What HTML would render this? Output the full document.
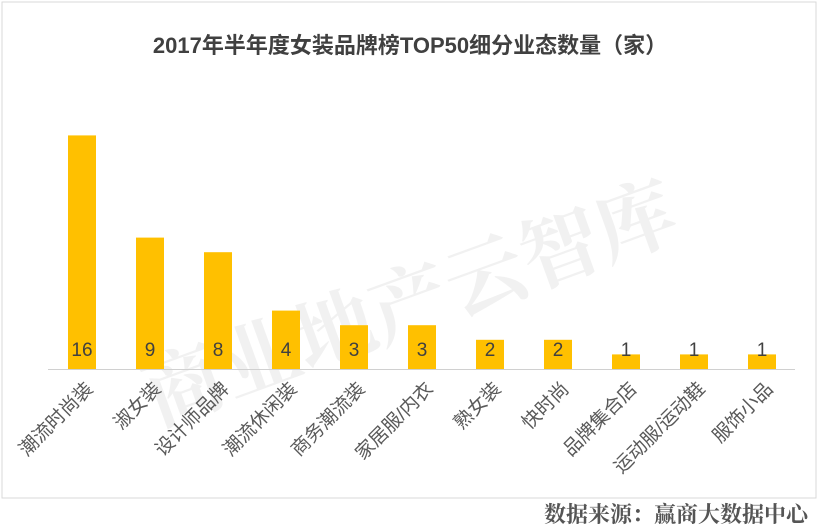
<!DOCTYPE html>
<html><head><meta charset="utf-8"><style>
body{margin:0;background:#fff;}
svg{display:block;font-family:"Liberation Sans","Noto Sans CJK SC",sans-serif;}
</style></head><body>
<svg id="chart" width="818" height="529" viewBox="0 0 818 529">
<rect x="2" y="2" width="814" height="496" fill="#fff" stroke="#d9d9d9"/>
<text x="410" y="53" text-anchor="middle" font-size="22" font-weight="bold" fill="#404040">2017年半年度女装品牌榜TOP50细分业态数量（家）</text>
<text x="420" y="330" text-anchor="middle" font-size="80" font-weight="bold" fill="#000" opacity="0.05" transform="rotate(-20 420 330)" font-family="'Noto Serif CJK SC',serif">商业地产云智库</text>
<g id="bars"></g>
<line x1="48" y1="369.5" x2="795" y2="369.5" stroke="#d0d0d0"/>
<text x="808" y="522" text-anchor="end" font-size="22" font-weight="bold" fill="#555" font-family="'Noto Serif CJK SC',serif">数据来源：赢商大数据中心</text>
</svg>
<script>
const categories=["潮流时尚装","淑女装","设计师品牌","潮流休闲装","商务潮流装","家居服/内衣","熟女装","快时尚","品牌集合店","运动服/运动鞋","服饰小品"];
const values=[16,9,8,4,3,3,2,2,1,1,1];
const NS="http://www.w3.org/2000/svg";
const g=document.getElementById("bars");
const base=369,scale=14.6,x0=82,step=68,bw=28;
function xPos(i){return x0+i*step;}
function yPos(v){return base-v*scale;}
categories.forEach((c,i)=>{
 const r=document.createElementNS(NS,"rect");
 r.setAttribute("x",xPos(i)-bw/2);r.setAttribute("y",yPos(values[i]));
 r.setAttribute("width",bw);r.setAttribute("height",base-yPos(values[i]));
 r.setAttribute("fill","#FFC000");
 
 
 g.appendChild(r);
 const t=document.createElementNS(NS,"text");
 t.setAttribute("x",xPos(i));t.setAttribute("y",356);
 t.setAttribute("text-anchor","middle");t.setAttribute("font-size","19");t.setAttribute("fill","#404040");
 t.textContent=values[i];
 
 
 g.appendChild(t);
 const l=document.createElementNS(NS,"text");
 const lx=xPos(i)+12,ly=390;
 l.setAttribute("x",lx);l.setAttribute("y",ly);
 l.setAttribute("text-anchor","end");l.setAttribute("font-size","19");l.setAttribute("fill","#595959");
 l.setAttribute("transform","rotate(-45 "+lx+" "+ly+")");
 l.textContent=c;
 
 
 g.appendChild(l);
});
</script>
</body></html>
